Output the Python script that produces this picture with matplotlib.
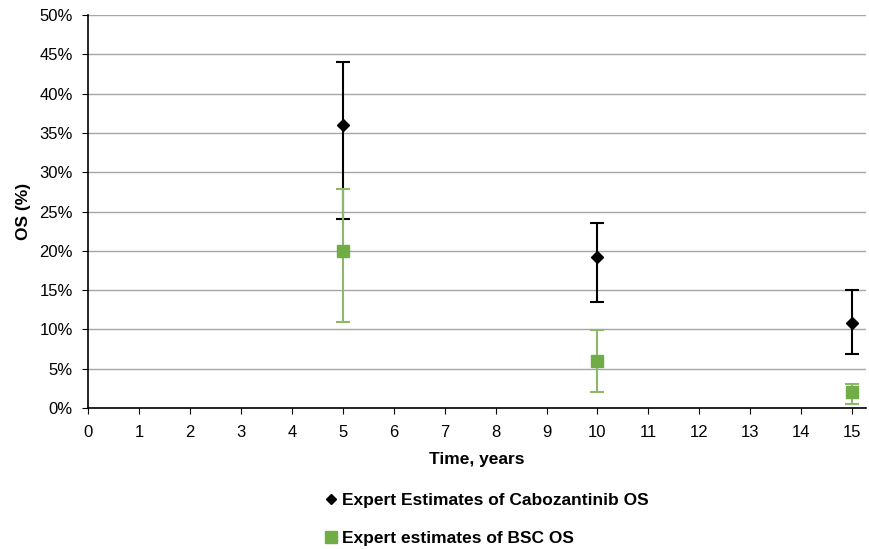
import matplotlib.pyplot as plt
from matplotlib.lines import Line2D
from matplotlib.ticker import FuncFormatter

plt.rcParams['font.family'] = ['Liberation Sans', 'DejaVu Sans']

# data (OS in %)
years = [5, 10, 15]
cabo_os = [36.0, 19.2, 10.8]
cabo_low = [24.0, 13.5, 6.9]
cabo_high = [44.0, 23.6, 15.0]
bsc_os = [20.0, 6.0, 2.0]
bsc_low = [11.0, 2.0, 0.5]
bsc_high = [27.8, 9.9, 3.0]

fig = plt.figure(figsize=(8.69, 5.49), dpi=100)
ax = fig.add_axes([88 / 869, 1 - 408 / 549, (866 - 88) / 869, (408 - 15) / 549])

green = '#70AD47'
green_err = '#8DB86B'

ax.errorbar(years, cabo_os,
            yerr=[[m - l for m, l in zip(cabo_os, cabo_low)],
                  [h - m for m, h in zip(cabo_os, cabo_high)]],
            fmt='D', color='black', ms=6, ecolor='black', elinewidth=1.5,
            capsize=5, capthick=1.5, zorder=3)
ax.errorbar(years, bsc_os,
            yerr=[[m - l for m, l in zip(bsc_os, bsc_low)],
                  [h - m for m, h in zip(bsc_os, bsc_high)]],
            fmt='s', color=green, ms=9, ecolor=green_err, elinewidth=1.5,
            capsize=5, capthick=1.5, zorder=4)

ax.set_xlim(0, 15.27)
ax.set_ylim(0, 50)
ax.set_xticks(range(0, 16))
ax.set_yticks(range(0, 51, 5))
ax.yaxis.set_major_formatter(FuncFormatter(lambda v, p: f'{v:.0f}%'))
ax.grid(axis='y', color='#a6a6a6', linewidth=1)
ax.set_axisbelow(True)
for s in ['top', 'right']:
    ax.spines[s].set_visible(False)
ax.spines['left'].set_linewidth(1.2)
ax.spines['bottom'].set_linewidth(1.2)
ax.tick_params(direction='out', length=4, labelsize=12, colors='black')
ax.tick_params(axis='x', pad=8)
ax.tick_params(axis='y', pad=7)

ax.set_xlabel('Time, years', fontsize=12.5, fontweight='bold', labelpad=9)
ax.set_ylabel('OS (%)', fontsize=12.5, fontweight='bold', labelpad=6)

handles = [Line2D([], [], ls='none', marker='D', color='black', ms=5),
           Line2D([], [], ls='none', marker='s', color=green, ms=8)]
labels = ['Expert Estimates of Cabozantinib OS', 'Expert estimates of BSC OS']
fig.legend(handles, labels, loc='upper left', bbox_to_anchor=(326 / 869, 1 - 493 / 549),
           frameon=False, prop={'weight': 'bold', 'size': 12.5}, handlelength=0.6,
           handletextpad=0.3, labelspacing=1.3, borderpad=0, borderaxespad=0)

fig.savefig('out.png', dpi=100)
